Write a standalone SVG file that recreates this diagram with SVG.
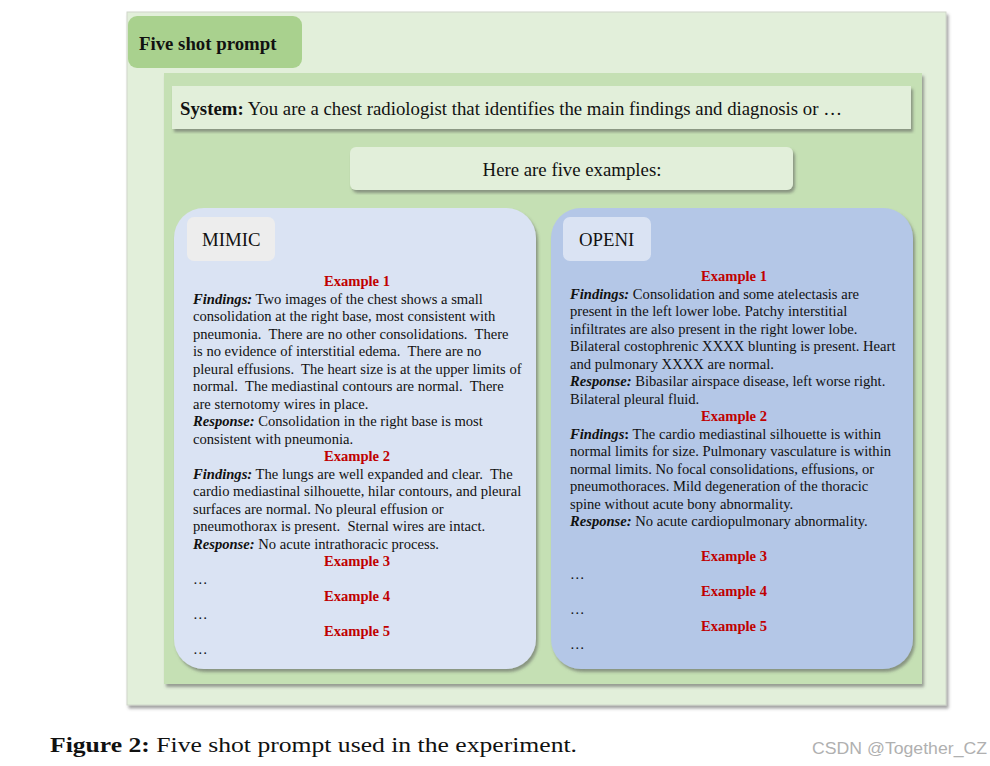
<svg xmlns="http://www.w3.org/2000/svg" width="990" height="766" viewBox="0 0 990 766">
<defs>
<filter id="sh" x="-5%" y="-5%" width="112%" height="115%">
<feDropShadow dx="2" dy="3" stdDeviation="1.5" flood-color="#555" flood-opacity="0.55"/>
</filter>
<style>
text{font-family:"Liberation Serif","Times New Roman",serif;fill:#111;white-space:pre}
.b{font-size:14.6px}
.ex{font-size:14.6px;font-weight:bold;fill:#c00000;text-anchor:middle}
.bi{font-weight:bold;font-style:italic}
.h{font-size:18.8px}
</style>
</defs>
<rect width="990" height="766" fill="#fff"/>
<g id="outer">
<rect x="127" y="12" width="819" height="693" fill="#e2efda" stroke="#cfd6ca" stroke-width="1" filter="url(#sh)"/>
</g>
<g id="title">
<rect x="128" y="16" width="174" height="52" rx="9" fill="#a9d18e"/>
<text x="139" y="50" style="font-size:18.8px;font-weight:bold">Five shot prompt</text>
</g>
<g id="inner">
<rect x="164" y="73" width="758" height="611" fill="#c5e0b4" filter="url(#sh)"/>
</g>
<g id="system">
<rect x="172" y="86" width="739" height="43" fill="#e2efda" filter="url(#sh)"/>
<text x="180" y="115" class="h"><tspan font-weight="bold">System:</tspan> You are a chest radiologist that identifies the main findings and diagnosis or …</text>
</g>
<g id="examples">
<rect x="350" y="147" width="443" height="43" rx="6" fill="#e2efda" filter="url(#sh)"/>
<text x="572" y="176" class="h" text-anchor="middle">Here are five examples:</text>
</g>
<g id="connectors"/>
<g id="mimic">
<rect x="174" y="208" width="362" height="461" rx="30" fill="#dae3f3" filter="url(#sh)"/>
<rect x="187" y="217" width="88" height="44" rx="7" fill="#ededed"/>
<text x="202" y="246" class="h">MIMIC</text>
<text x="357" y="286" class="ex">Example 1</text>
<text x="193" y="303.5" class="b"><tspan class="bi">Findings:</tspan> Two images of the chest shows a small</text>
<text x="193" y="321" class="b">consolidation at the right base, most consistent with</text>
<text x="193" y="338.5" class="b">pneumonia.  There are no other consolidations.  There</text>
<text x="193" y="356" class="b">is no evidence of interstitial edema.  There are no</text>
<text x="193" y="373.5" class="b">pleural effusions.  The heart size is at the upper limits of</text>
<text x="193" y="391" class="b">normal.  The mediastinal contours are normal.  There</text>
<text x="193" y="408.5" class="b">are sternotomy wires in place.</text>
<text x="193" y="426" class="b"><tspan class="bi">Response:</tspan> Consolidation in the right base is most</text>
<text x="193" y="443.5" class="b">consistent with pneumonia.</text>
<text x="357" y="461" class="ex">Example 2</text>
<text x="193" y="478.5" class="b"><tspan class="bi">Findings:</tspan> The lungs are well expanded and clear.  The</text>
<text x="193" y="496" class="b">cardio mediastinal silhouette, hilar contours, and pleural</text>
<text x="193" y="513.5" class="b">surfaces are normal. No pleural effusion or</text>
<text x="193" y="531" class="b">pneumothorax is present.  Sternal wires are intact.</text>
<text x="193" y="548.5" class="b"><tspan class="bi">Response:</tspan> No acute intrathoracic process.</text>
<text x="357" y="566" class="ex">Example 3</text>
<text x="193" y="583.5" class="b">…</text>
<text x="357" y="601" class="ex">Example 4</text>
<text x="193" y="618.5" class="b">…</text>
<text x="357" y="636" class="ex">Example 5</text>
<text x="193" y="653.5" class="b">…</text>
</g>
<g id="openi">
<rect x="551" y="208" width="362" height="461" rx="30" fill="#b4c7e7" filter="url(#sh)"/>
<rect x="563" y="217" width="88" height="44" rx="7" fill="#dae3f3"/>
<text x="579" y="246" class="h">OPENI</text>
<text x="734" y="281" class="ex">Example 1</text>
<text x="570" y="298.5" class="b"><tspan class="bi">Findings:</tspan> Consolidation and some atelectasis are</text>
<text x="570" y="316" class="b">present in the left lower lobe. Patchy interstitial</text>
<text x="570" y="333.5" class="b">infiltrates are also present in the right lower lobe.</text>
<text x="570" y="351" class="b">Bilateral costophrenic XXXX blunting is present. Heart</text>
<text x="570" y="368.5" class="b">and pulmonary XXXX are normal.</text>
<text x="570" y="386" class="b"><tspan class="bi">Response:</tspan> Bibasilar airspace disease, left worse right.</text>
<text x="570" y="403.5" class="b">Bilateral pleural fluid.</text>
<text x="734" y="421" class="ex">Example 2</text>
<text x="570" y="438.5" class="b"><tspan class="bi">Findings</tspan><tspan font-weight="bold">:</tspan> The cardio mediastinal silhouette is within</text>
<text x="570" y="456" class="b">normal limits for size. Pulmonary vasculature is within</text>
<text x="570" y="473.5" class="b">normal limits. No focal consolidations, effusions, or</text>
<text x="570" y="491" class="b">pneumothoraces. Mild degeneration of the thoracic</text>
<text x="570" y="508.5" class="b">spine without acute bony abnormality.</text>
<text x="570" y="526" class="b"><tspan class="bi">Response:</tspan> No acute cardiopulmonary abnormality.</text>
<text x="734" y="561" class="ex">Example 3</text>
<text x="570" y="578.5" class="b">…</text>
<text x="734" y="596" class="ex">Example 4</text>
<text x="570" y="613.5" class="b">…</text>
<text x="734" y="631" class="ex">Example 5</text>
<text x="570" y="648.5" class="b">…</text>
</g>
<g id="caption">
<text x="50" y="752" style="font-size:22px" textLength="527" lengthAdjust="spacingAndGlyphs"><tspan font-weight="bold">Figure 2:</tspan> Five shot prompt used in the experiment.</text>
<text x="812" y="754" textLength="175" lengthAdjust="spacingAndGlyphs" style="font-family:'Liberation Sans',Arial,sans-serif;font-size:16px;fill:#b0b0b0">CSDN @Together_CZ</text>
</g>
</svg>
